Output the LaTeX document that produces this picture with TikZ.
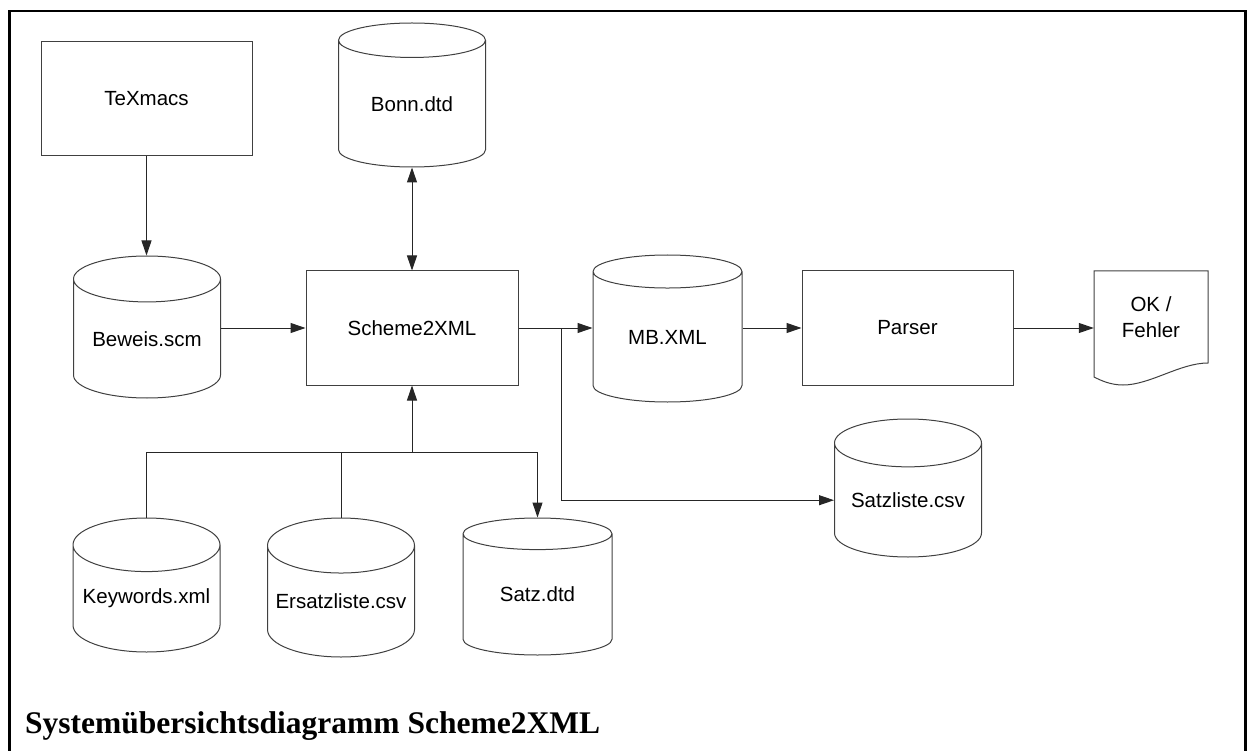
\documentclass[tikz,border=0pt]{standalone}
\usepackage{fontspec}
\setmainfont{Liberation Serif}
\setsansfont{Liberation Sans}
\usetikzlibrary{shapes.geometric,arrows.meta}

\begin{document}
\begin{tikzpicture}[x=1pt,y=-1pt,
		every node/.style={font=\sffamily\fontsize{20.5}{26}\selectfont,align=center},
		box/.style={draw=black!75,line width=1pt,inner sep=0pt,minimum width=211pt,minimum height=114pt},
		db/.style={draw=black!75,line width=1pt,cylinder,shape border rotate=90,aspect=0.42,
			inner sep=0pt,minimum width=147pt,anchor=shape center},
		link/.style={line width=1pt,draw=black!85},
		flow/.style={link,-{Triangle[length=15pt,width=10pt]}},
		twoway/.style={link,{Triangle[length=15pt,width=10pt]}-{Triangle[length=15pt,width=10pt]}}]
	\useasboundingbox (0,0) rectangle (1247,751);
	\draw[line width=2.8pt] (9.5,760) -- (9.5,11) -- (1245.5,11) -- (1245.5,760);

	\node[box] (texmacs) at (146.5,99) {TeXmacs};
	\node[db,minimum height=144pt] (bonn) at (412,95) {Bonn.dtd};
	\node[db,minimum height=142pt] (beweis) at (147,327) {Beweis.scm};
	\node[box,minimum width=212pt] (scheme) at (412,328) {Scheme2XML};
	\node[db,minimum width=149pt,minimum height=147pt] (mb) at (667.5,328.5) {MB.XML};
	\node[box] (parser) at (907.5,328) {Parser};
	\node[inner sep=0pt,minimum width=114pt] (ok) at (1151,317) {OK /\\Fehler};
	\node[db,minimum height=138pt] (satzliste) at (908,488) {Satzliste.csv};
	\node[db,minimum height=134pt] (keywords) at (146.5,585) {Keywords.xml};
	\node[db,minimum height=139pt] (ersatz) at (341,587.5) {Ersatzliste.csv};
	\node[db,minimum width=149pt,minimum height=137pt] (satz) at (537.5,586.5) {Satz.dtd};

	% document symbol with wavy lower edge
	\draw[link,draw=black!75] ([shift={(-57,-46)}]ok.center) -- ([shift={(57,-46)}]ok.center)
		-- ([shift={(57,46)}]ok.center)
		.. controls ([shift={(29,46)}]ok.center) and ([shift={(-1,68)}]ok.center) .. ([shift={(-28,68)}]ok.center)
		.. controls ([shift={(-41,68)}]ok.center) and ([shift={(-51,63)}]ok.center) .. ([shift={(-57,60)}]ok.center)
		-- cycle;

	\coordinate (split) at (561,328);
	\coordinate (bus) at (412,452);

	\draw[flow] (texmacs.south) -- (texmacs.south |- beweis.north);
	\draw[twoway] (scheme.north) -- (bonn.south);
	\draw[flow] (beweis.east |- scheme.west) -- (scheme.west);
	\draw[link] (scheme.east) -- (split);
	\draw[flow] (split) -- (split -| mb.west);
	\draw[flow] (split) |- (satzliste.west);
	\draw[flow] (mb.east |- parser.west) -- (parser.west);
	\draw[flow] (parser.east) -- (parser.east -| ok.west);

	\draw[flow] (bus) -- (scheme.south);
	\draw[link] (keywords.north) |- (bus);
	\draw[link] (ersatz.north) -- (ersatz.north |- bus);
	\draw[flow] (bus) -| (satz.north);

	\node[anchor=base west,inner sep=0pt,font=\rmfamily\bfseries\fontsize{31.5}{36}\selectfont] (title)
		at (25,733) {Systemübersichtsdiagramm Scheme2XML};
\end{tikzpicture}
\end{document}
